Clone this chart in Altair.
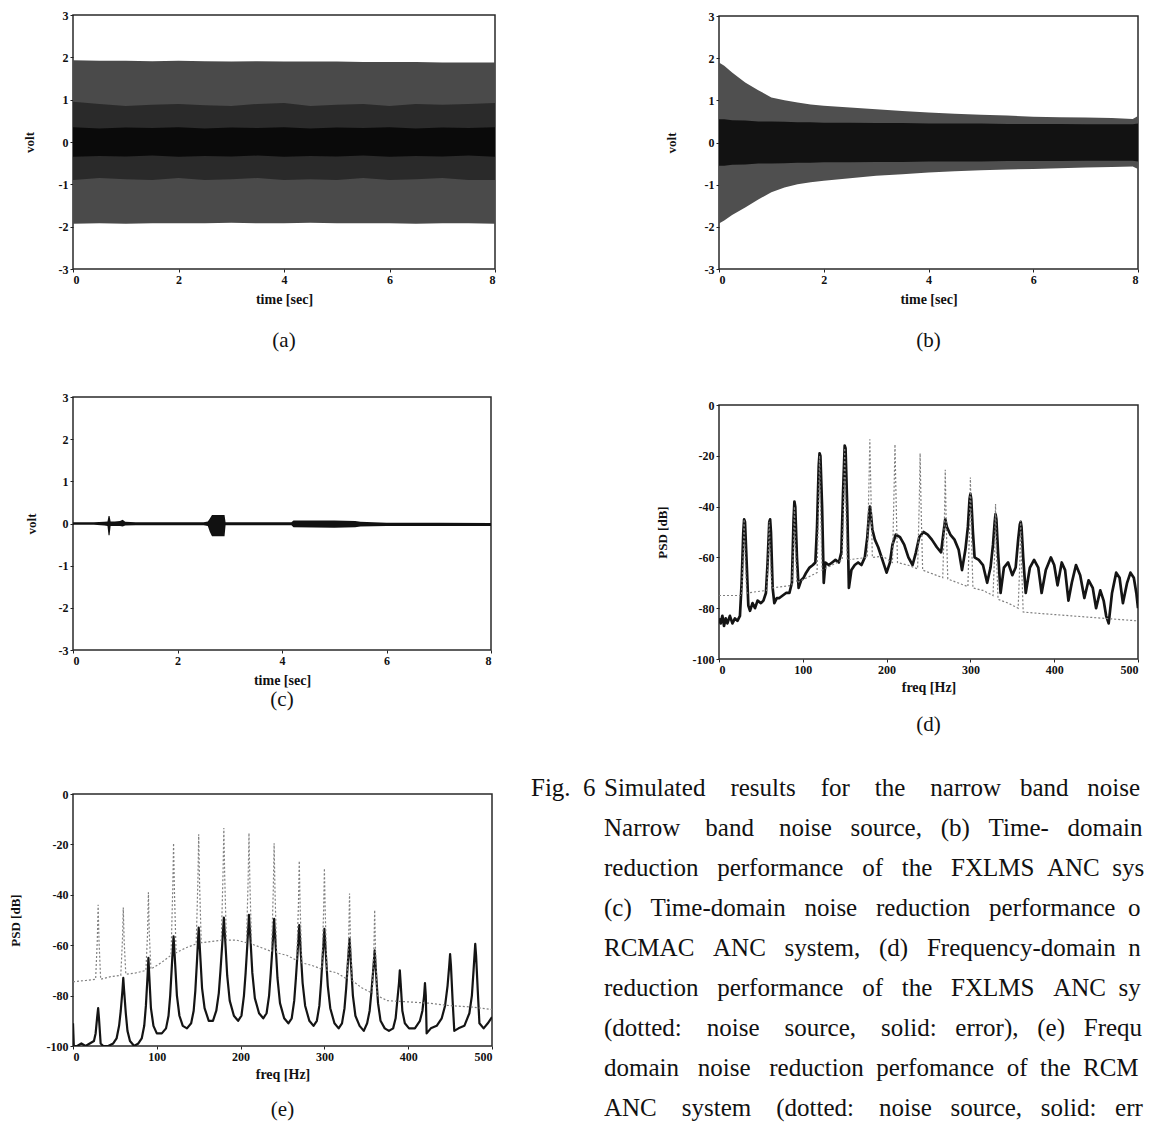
import altair as alt
import pandas as pd

FONT = "Liberation Serif"
INK = "#111111"

# ---------------- (a) narrow band noise source : envelope bands (volt) -------------
A_T = [0, 0.5, 1, 1.5, 2, 2.5, 3, 3.5, 4, 4.5, 5, 5.5, 6, 6.5, 7, 7.5, 8]
A_OUT_HI = [1.93, 1.92, 1.92, 1.91, 1.92, 1.91, 1.9, 1.91, 1.9, 1.9, 1.9, 1.89, 1.89, 1.89, 1.88, 1.88, 1.88]
A_OUT_LO = [-1.93, -1.92, -1.93, -1.92, -1.92, -1.92, -1.91, -1.92, -1.92, -1.91, -1.92, -1.92, -1.92, -1.93, -1.92, -1.92, -1.93]
A_MID_HI = [0.95, 0.9, 0.85, 0.88, 0.9, 0.87, 0.85, 0.9, 0.92, 0.85, 0.88, 0.9, 0.85, 0.9, 0.88, 0.9, 0.92]
A_MID_LO = [-0.9, -0.85, -0.88, -0.9, -0.85, -0.9, -0.88, -0.85, -0.9, -0.88, -0.9, -0.85, -0.9, -0.88, -0.85, -0.9, -0.9]
A_CORE_HI = [0.35, 0.32, 0.34, 0.33, 0.35, 0.32, 0.34, 0.33, 0.35, 0.32, 0.34, 0.33, 0.35, 0.32, 0.34, 0.33, 0.35]
A_CORE_LO = [-0.35, -0.33, -0.34, -0.32, -0.35, -0.33, -0.34, -0.32, -0.35, -0.33, -0.34, -0.32, -0.35, -0.33, -0.34, -0.32, -0.35]

# ---------------- (b) FXLMS time-domain error envelope (volt) ----------------------
B_T = [0, 0.1, 0.25, 0.5, 0.75, 1, 1.25, 1.5, 1.75, 2, 2.5, 3, 3.5, 4, 4.5, 5, 5.5, 6, 6.5, 7, 7.5, 7.9, 8]
B_OUT_HI = [1.9, 1.82, 1.66, 1.42, 1.24, 1.07, 1.0, 0.95, 0.9, 0.87, 0.83, 0.79, 0.75, 0.71, 0.68, 0.66, 0.64, 0.61, 0.6, 0.59, 0.58, 0.56, 0.63]
B_OUT_LO = [-1.92, -1.85, -1.72, -1.54, -1.35, -1.18, -1.07, -0.99, -0.94, -0.91, -0.85, -0.79, -0.75, -0.71, -0.68, -0.66, -0.64, -0.63, -0.61, -0.59, -0.58, -0.57, -0.63]
B_CORE_HI = [0.55, 0.55, 0.53, 0.52, 0.5, 0.5, 0.49, 0.48, 0.48, 0.47, 0.47, 0.46, 0.46, 0.45, 0.45, 0.45, 0.44, 0.44, 0.44, 0.43, 0.43, 0.43, 0.45]
B_CORE_LO = [-0.55, -0.55, -0.53, -0.52, -0.5, -0.5, -0.49, -0.48, -0.48, -0.47, -0.47, -0.46, -0.46, -0.45, -0.45, -0.45, -0.44, -0.44, -0.44, -0.43, -0.43, -0.43, -0.45]

# ---------------- (c) RCMAC time-domain error envelope (volt) ----------------------
C_T = [0, 0.4, 0.6, 0.66, 0.68, 0.70, 0.72, 0.8, 0.9, 0.95, 1.0, 1.2, 2.0, 2.5, 2.58, 2.62, 2.66, 2.9, 2.92, 3.0,
       4.0, 4.18, 4.22, 5.0, 5.4, 5.5, 6.0, 7.0, 8.0]
C_HI = [0.03, 0.03, 0.04, 0.05, 0.18, 0.18, 0.05, 0.05, 0.06, 0.09, 0.04, 0.03, 0.03, 0.03, 0.05, 0.12, 0.2, 0.2, 0.03, 0.03,
        0.03, 0.03, 0.07, 0.07, 0.06, 0.04, 0.02, 0.02, 0.01]
C_LO = [-0.03, -0.03, -0.05, -0.06, -0.28, -0.28, -0.06, -0.06, -0.06, -0.07, -0.05, -0.04, -0.04, -0.04, -0.06, -0.2, -0.3, -0.3, -0.04, -0.04,
        -0.04, -0.04, -0.09, -0.1, -0.09, -0.07, -0.06, -0.06, -0.06]

# ---------------- (d) FXLMS PSD (dB) ----------------------------------------------
D_ERR_F = [0, 2, 4, 6, 8, 10, 13, 16, 19, 22,
           25, 27, 29, 30, 31, 33, 35, 37, 40, 43,
           46, 50, 53, 56, 58, 60, 61, 62, 64, 66,
           69, 72, 76, 80, 84, 87, 89, 90, 91, 93,
           95, 98, 101, 104, 108, 112, 115, 117, 119, 120,
           121, 123, 125, 127, 131, 135, 139, 143, 146, 148,
           150, 151, 153, 155, 158, 162, 166, 170, 174, 177,
           179, 180, 181, 183, 186, 190, 195, 200, 204, 207,
           211, 216, 221, 226, 231, 235, 239, 244, 249, 254,
           260, 265, 268, 270, 272, 276, 281, 286, 290, 294,
           297, 299, 300, 301, 303, 305, 310, 315, 320, 324,
           327, 329, 330, 331, 333, 336, 340, 345, 350, 354,
           357, 359, 360, 361, 363, 366, 371, 376, 381, 385,
           390, 396, 400, 404, 409, 413, 417, 421, 426, 431,
           436, 441, 446, 450, 455, 459, 462, 465, 469, 474,
           478, 482, 487, 491, 495, 498, 500]
D_ERR_DB = [-84, -86, -83, -87, -84, -86, -83, -86, -84, -85,
            -83, -70, -50, -45, -46, -62, -79, -81, -78, -80,
            -77, -78, -77, -74, -62, -46, -45, -50, -72, -78,
            -76, -76, -75, -74, -74, -70, -45, -38, -40, -60,
            -72, -69, -68, -66, -64, -63, -62, -48, -24, -19,
            -20, -40, -70, -62, -63, -62, -61, -62, -58, -35,
            -16, -17, -40, -72, -65, -63, -62, -63, -60, -52,
            -43, -40, -42, -49, -53, -56, -61, -66, -62, -55,
            -51, -52, -55, -60, -63, -58, -52, -50, -51, -53,
            -56, -58, -50, -45, -48, -51, -53, -57, -65, -57,
            -48, -37, -35, -37, -50, -60, -61, -63, -70, -64,
            -55, -46, -43, -45, -58, -74, -64, -62, -67, -64,
            -53, -47, -46, -48, -60, -74, -64, -61, -64, -74,
            -65, -60, -63, -71, -62, -65, -77, -70, -63, -67,
            -76, -69, -72, -80, -73, -77, -83, -86, -74, -66,
            -68, -78, -70, -66, -68, -74, -80]
D_SRC_F = [0, 27, 29, 30, 31, 33, 57, 59, 60, 61, 63, 87, 89, 90, 91, 93, 117, 119, 120, 121, 123,
           147, 149, 150, 151, 153, 177, 179, 180, 181, 183, 195, 207, 209, 210, 211, 213, 225,
           237, 239, 240, 241, 243, 255, 267, 269, 270, 271, 273, 285, 297, 299, 300, 301, 303, 315,
           327, 329, 330, 331, 333, 345, 357, 359, 360, 361, 363, 380, 400, 420, 440, 460, 480, 500]
D_SRC_DB = [-75, -75, -58, -45, -58, -74, -73, -58, -46, -58, -72, -71, -55, -40, -55, -70, -66, -38, -20, -38, -65,
            -61, -35, -17, -35, -61, -60, -30, -13.5, -30, -60, -59.5, -62, -32, -15.5, -32, -62, -63,
            -64.5, -38, -19, -38, -65, -66.5, -68, -45, -25.5, -45, -68.5, -70, -71.5, -48, -28.5, -48, -72, -73,
            -75, -58, -39, -58, -76.5, -78, -80, -62, -45.5, -62, -81.5, -82, -82.5, -83, -83.5, -84, -84.5, -85]

# ---------------- (e) RCMAC PSD (dB) ----------------------------------------------
E_ERR_F = [0, 1, 5, 10, 15, 20, 25, 27, 29, 30,
           31, 33, 36, 42, 48, 52, 55, 57, 59, 60,
           61, 63, 65, 68, 73, 78, 82, 85, 87, 89,
           90, 91, 93, 96, 100, 106, 111, 114, 116, 118,
           120, 122, 124, 127, 131, 136, 141, 144, 146, 148,
           150, 152, 154, 157, 162, 167, 171, 174, 176, 178,
           180, 182, 184, 187, 192, 197, 201, 204, 206, 208,
           210, 212, 214, 217, 222, 227, 231, 234, 236, 238,
           240, 242, 244, 247, 252, 257, 261, 264, 266, 268,
           270, 272, 274, 277, 282, 287, 291, 294, 296, 298,
           300, 302, 304, 307, 312, 317, 321, 324, 326, 328,
           330, 332, 334, 337, 342, 347, 351, 354, 356, 358,
           360, 362, 364, 367, 372, 377, 382, 385, 387, 389,
           390, 391, 393, 396, 401, 408, 414, 417, 419, 420,
           421, 422, 427, 434, 440, 444, 447, 449, 450, 451,
           453, 455, 460, 467, 473, 476, 478, 480, 481, 483,
           485, 490, 495, 500]
E_ERR_DB = [-91, -100, -100, -99, -100, -99, -98, -95, -88, -85,
            -89, -99, -100, -100, -99, -97, -92, -86, -78, -73,
            -78, -87, -94, -98, -100, -99, -97, -92, -84, -72,
            -65, -72, -85, -92, -95, -95, -93, -88, -80, -68,
            -56.5, -68, -80, -88, -92, -93, -91, -86, -78, -66,
            -53, -65, -77, -85, -90, -90, -86, -79, -70, -60,
            -49, -60, -72, -82, -88, -90, -88, -80, -71, -60,
            -48, -59, -71, -81, -87, -89, -87, -80, -71, -61,
            -49.5, -61, -73, -83, -89, -91, -89, -82, -73, -63,
            -52, -64, -75, -84, -90, -92, -90, -84, -75, -64,
            -53.5, -65, -76, -85, -91, -93, -91, -85, -77, -67,
            -57.5, -69, -80, -88, -92, -94, -91, -86, -79, -71,
            -62, -73, -83, -90, -93, -94, -93, -89, -82, -75,
            -70, -75, -86, -91, -93, -93, -90, -86, -80, -75,
            -80, -95, -93, -92, -89, -84, -76, -68, -63.5, -68,
            -82, -94, -93, -92, -87, -80, -70, -59.5, -64, -78,
            -91, -93, -91, -88.5]
E_SRC_F = [0, 15, 27, 29, 30, 31, 33, 45, 57, 59, 60, 61, 63, 75, 87, 89, 90, 91, 93, 105,
           117, 119, 120, 121, 123, 135, 147, 149, 150, 151, 153, 165, 177, 179, 180, 181, 183, 195,
           207, 209, 210, 211, 213, 225, 237, 239, 240, 241, 243, 255, 267, 269, 270, 271, 273, 285,
           297, 299, 300, 301, 303, 315, 327, 329, 330, 331, 333, 345, 357, 359, 360, 361, 363,
           375, 400, 425, 450, 475, 500]
E_SRC_DB = [-74.5, -74, -73.5, -58, -44, -58, -73.5, -72.5, -72, -58, -45, -58, -71.5, -71, -70, -55, -39, -55, -69.5, -67,
            -64, -38, -19.5, -38, -63, -61, -59.5, -35, -16, -35, -59, -58.5, -58, -32, -13.5, -32, -58, -58,
            -59, -34, -15.5, -34, -59.5, -61, -62.5, -38, -19.5, -38, -63, -64, -66, -44, -26.5, -44, -67, -68,
            -69.5, -47, -29.5, -47, -70, -71, -73.5, -57, -39.5, -57, -74, -77, -79, -62, -46, -62, -80,
            -82, -82.5, -83, -84, -84.5, -85.5]

CAPTION_LEAD = "Fig. \u00a06"
CAPTION = [
    "Simulated results for the narrow band noise",
    "Narrow band noise source, (b) Time- domain",
    "reduction performance of the FXLMS ANC sys",
    "(c) Time-domain noise reduction performance o",
    "RCMAC ANC system, (d) Frequency-domain n",
    "reduction performance of the FXLMS ANC sy",
    "(dotted: noise source, solid: error), (e) Frequ",
    "domain noise reduction perfomance of the RCM",
    "ANC system (dotted: noise source, solid: err",
]
# extra no-break spaces per line, spread over the word gaps (justified typesetting)
CAPTION_PAD = [16, 14, 10, 9, 9, 11, 15, 8, 15]

for a, b in [(D_ERR_F, D_ERR_DB), (D_SRC_F, D_SRC_DB), (E_ERR_F, E_ERR_DB), (E_SRC_F, E_SRC_DB)]:
    assert len(a) == len(b)


def justify(line, n_extra):
    words = line.split(" ")
    gaps = len(words) - 1
    out = words[0]
    for k in range(gaps):
        pad = n_extra // gaps + (1 if k < n_extra % gaps else 0)
        out += " " + "\u00a0" * pad + words[k + 1]
    return out


def label_title(txt, offset):
    return alt.TitleParams(txt, orient="bottom", anchor="middle", font=FONT, fontSize=21,
                           fontWeight="normal", color=INK, offset=offset)


def time_panel(bands, label, w, h, ytp, toff):
    rows = []
    for name, t, hi, lo, col in bands:
        for ti, hv, lv in zip(t, hi, lo):
            rows.append({"t": ti, "hi": hv, "lo": lv, "band": name})
    df = pd.DataFrame(rows)
    base = alt.Chart(df).encode(
        x=alt.X("t:Q", scale=alt.Scale(domain=[0, 8], nice=False, zero=False),
                axis=alt.Axis(values=[0, 2, 4, 6, 8], title="time [sec]", titlePadding=7, titleFontSize=14,
                              labelExpr="toString(datum.value)")),
        y=alt.Y("hi:Q", scale=alt.Scale(domain=[-3, 3], nice=False, zero=False),
                axis=alt.Axis(values=[-3, -2, -1, 0, 1, 2, 3], title="volt", titlePadding=ytp,
                              labelExpr="toString(datum.value)")),
        y2="lo:Q",
    )
    layers = [base.transform_filter(alt.datum.band == name).mark_area(color=col, opacity=1, clip=True)
              for name, t, hi, lo, col in bands]
    return alt.layer(*layers).properties(width=w, height=h, title=label_title(label, toff))


def psd_panel(src_f, src_db, err_f, err_db, label, w, h, ytp, toff, sw):
    rows = [{"f": f, "db": d, "s": "source"} for f, d in zip(src_f, src_db)]
    rows += [{"f": f, "db": d, "s": "error"} for f, d in zip(err_f, err_db)]
    df = pd.DataFrame(rows)
    base = alt.Chart(df).encode(
        x=alt.X("f:Q", scale=alt.Scale(domain=[0, 500], nice=False, zero=False),
                axis=alt.Axis(values=[0, 100, 200, 300, 400, 500], title="freq [Hz]", titlePadding=5,
                              titleFontSize=14, labelExpr="toString(datum.value)")),
        y=alt.Y("db:Q", scale=alt.Scale(domain=[-100, 0], nice=False, zero=False),
                axis=alt.Axis(values=[-100, -80, -60, -40, -20, 0], title="PSD [dB]", titlePadding=ytp,
                              labelExpr="toString(datum.value)")),
        order="f:Q",
    )
    solid = base.transform_filter(alt.datum.s == "error").mark_line(
        color="#141414", strokeWidth=sw, clip=True, strokeJoin="round")
    dotted = base.transform_filter(alt.datum.s == "source").mark_line(
        color="#808080", strokeWidth=1.2, strokeDash=[2, 2], clip=True)
    return alt.layer(solid, dotted).properties(width=w, height=h, title=label_title(label, toff))


def spacer(h):
    return alt.Chart(pd.DataFrame({"v": [0]})).mark_point(opacity=0).encode(
        x=alt.value(0), y=alt.value(0)
    ).properties(width=1, height=h, view=alt.ViewBackground(stroke="transparent"))


panel_a = time_panel([
    ("outer", A_T, A_OUT_HI, A_OUT_LO, "#4a4a4a"),
    ("mid", A_T, A_MID_HI, A_MID_LO, "#2a2a2a"),
    ("core", A_T, A_CORE_HI, A_CORE_LO, "#0a0a0a"),
], "(a)", 422, 254, 22, 24)

panel_b = time_panel([
    ("outer", B_T, B_OUT_HI, B_OUT_LO, "#4f4f4f"),
    ("core", B_T, B_CORE_HI, B_CORE_LO, "#121212"),
], "(b)", 419, 253, 26, 24)

panel_c = time_panel([
    ("env", C_T, C_HI, C_LO, "#111111"),
], "(c)", 418, 253, 20, 2)

panel_d = psd_panel(D_SRC_F, D_SRC_DB, D_ERR_F, D_ERR_DB, "(d)", 419, 254, 23, 20, 2.7)
panel_e = psd_panel(E_SRC_F, E_SRC_DB, E_ERR_F, E_ERR_DB, "(e)", 419, 252, 24, 18, 2.2)

cap_df = pd.DataFrame({"i": list(range(len(CAPTION))),
                       "txt": [justify(s, n) for s, n in zip(CAPTION, CAPTION_PAD)]})
lead_df = pd.DataFrame({"i": [0], "txt": [CAPTION_LEAD]})
cap_y = alt.Y("i:Q", scale=alt.Scale(domain=[0, 8], reverse=True, nice=False, zero=False), axis=None)
cap_lead = alt.Chart(lead_df).mark_text(
    align="left", baseline="alphabetic", font=FONT, fontSize=25, color=INK, dy=2
).encode(x=alt.value(-188), y=cap_y, text="txt:N")
cap_lines = alt.Chart(cap_df).mark_text(
    align="left", baseline="alphabetic", font=FONT, fontSize=25, color=INK, dy=2
).encode(x=alt.value(-115), y=cap_y, text="txt:N")
caption = alt.layer(cap_lead, cap_lines).properties(
    width=420, height=320, view=alt.ViewBackground(stroke="transparent"))

col1 = alt.vconcat(panel_a, spacer(128), panel_c, spacer(144), panel_e, spacing=0, bounds="flush")
col2 = alt.vconcat(spacer(1), panel_b, spacer(136), panel_d, spacer(135), caption, spacing=0, bounds="flush")

chart = alt.hconcat(col1, col2, spacing=646, bounds="flush").properties(
    padding={"left": 0, "top": 0, "right": 0, "bottom": 0}, background="white"
).configure_view(
    stroke="#2a2a2a", strokeWidth=1.5
).configure_axis(
    grid=False, domain=False, ticks=True, tickSize=3, tickColor="#222", labelPadding=2,
    labelFont=FONT, labelFontWeight="bold", labelFontSize=12, labelColor=INK,
    titleFont=FONT, titleFontWeight="bold", titleFontSize=13, titleColor=INK,
)

chart.save("out.html", embed_options={"renderer": "svg", "actions": False})
